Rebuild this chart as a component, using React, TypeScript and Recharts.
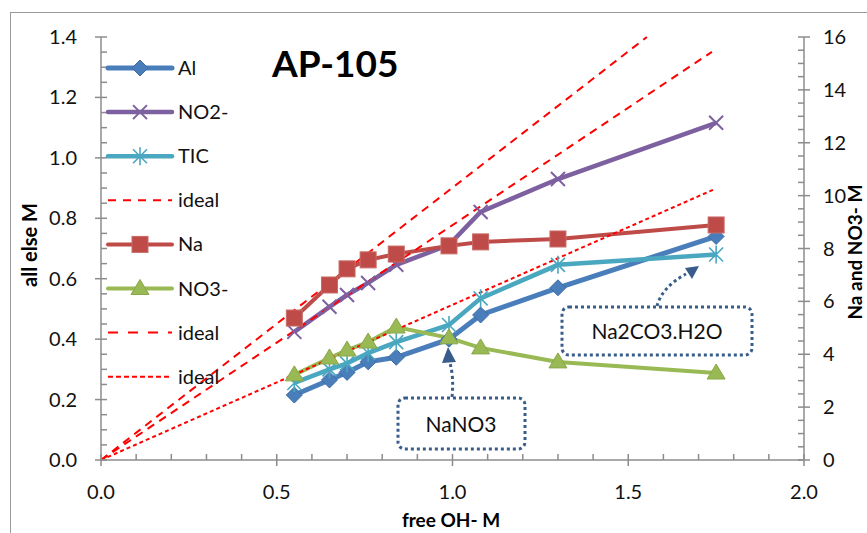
import { LineChart, Line, XAxis, YAxis, Legend, Customized } from "recharts"

// free OH- M for every sample
const freeOH = [0.55, 0.65, 0.7, 0.76, 0.84, 0.99, 1.08, 1.3, 1.75]

// left axis ("all else M")
const alM = [0.215, 0.265, 0.29, 0.325, 0.34, 0.4, 0.48, 0.57, 0.74]
const no2M = [0.424, 0.507, 0.546, 0.586, 0.646, 0.712, 0.821, 0.93, 1.116]
const ticM = [0.255, 0.3, 0.32, 0.354, 0.39, 0.447, 0.535, 0.646, 0.68]

// right axis ("Na and NO3- M")
const naM = [5.37, 6.62, 7.23, 7.57, 7.79, 8.1, 8.25, 8.36, 8.89]
const no3M = [3.22, 3.86, 4.16, 4.46, 5.03, 4.62, 4.24, 3.71, 3.29]

// ideal lines, two points each
const idealLeftX = [0, 1.553]
const idealLeftY = [0, 1.4]
const idealNaX = [0, 1.738]
const idealNaY = [0, 15.44]
const idealNo3X = [0, 1.741]
const idealNo3Y = [0, 10.22]

const xMajor = [0, 0.5, 1, 1.5, 2]
const leftMajor = [0, 0.2, 0.4, 0.6, 0.8, 1, 1.2, 1.4]
const rightMajor = [0, 2, 4, 6, 8, 10, 12, 14, 16]

const steps = (max: number, step: number) => {
    const out: number[] = []
    for (let i = 0; i * step <= max + 1e-9; i++) out.push(Number((i * step).toFixed(3)))
    return out
}
const xTicks = steps(2, 0.1)
const leftTicks = steps(1.4, 0.05)
const rightTicks = steps(16, 0.5)

const isMajor = (list: number[], v: number) => list.some((m) => Math.abs(m - v) < 1e-6)

const toPoints = (xs: number[], ys: number[]) => xs.map((x, i) => ({ x, y: ys[i] }))

const AXIS = "#8c8c8c"
const FONT = "Lato, 'Open Sans', sans-serif"
const AL = "#4a7ebb"
const NO2 = "#7d60a0"
const TIC = "#4aa7c0"
const NA = "#be4b48"
const NO3 = "#98b954"
const IDEAL = "#ff0000"
const NOTE = "#385d8a"

const XTick = (p: any) => {
    const major = isMajor(xMajor, p.payload.value)
    return (
        <g>
            <line x1={p.x} x2={p.x} y1={major ? p.y + 6 : p.y} y2={p.y - 6} stroke={AXIS} strokeWidth={1.5} />
            {major && (
                <text x={p.x} y={p.y + 39} textAnchor="middle" fontSize={20} fontFamily={FONT} fill="#111">
                    {p.payload.value.toFixed(1)}
                </text>
            )}
        </g>
    )
}

const LeftTick = (p: any) => {
    const major = isMajor(leftMajor, p.payload.value)
    return (
        <g>
            <line x1={major ? p.x - 6 : p.x} x2={p.x + 6} y1={p.y} y2={p.y} stroke={AXIS} strokeWidth={1.5} />
            {major && (
                <text x={p.x - 24} y={p.y + 7} textAnchor="end" fontSize={20} fontFamily={FONT} fill="#111">
                    {p.payload.value.toFixed(1)}
                </text>
            )}
        </g>
    )
}

const RightTick = (p: any) => {
    const major = isMajor(rightMajor, p.payload.value)
    return (
        <g>
            <line x1={p.x - 6} x2={major ? p.x + 6 : p.x} y1={p.y} y2={p.y} stroke={AXIS} strokeWidth={1.5} />
            {major && (
                <text x={p.x + 19} y={p.y + 7} textAnchor="start" fontSize={20} fontFamily={FONT} fill="#111">
                    {p.payload.value}
                </text>
            )}
        </g>
    )
}

type Kind = "diamond" | "cross" | "star" | "square" | "triangle"

const marker = (kind: Kind, cx: number, cy: number, color: string) => {
    switch (kind) {
        case "diamond":
            return <path d={`M${cx},${cy - 8}L${cx + 8},${cy}L${cx},${cy + 8}L${cx - 8},${cy}Z`} fill={color} stroke="#3d6ca6" strokeWidth={1} />
        case "cross":
            return (
                <path d={`M${cx - 7},${cy - 7}L${cx + 7},${cy + 7}M${cx - 7},${cy + 7}L${cx + 7},${cy - 7}`} stroke={color} strokeWidth={2} />
            )
        case "star":
            return (
                <path
                    d={`M${cx - 7},${cy - 7}L${cx + 7},${cy + 7}M${cx - 7},${cy + 7}L${cx + 7},${cy - 7}M${cx},${cy - 9}L${cx},${cy + 9}`}
                    stroke={color}
                    strokeWidth={1.6}
                />
            )
        case "square":
            return <rect x={cx - 8} y={cy - 8} width={16} height={16} fill={color} stroke="#c96a67" strokeWidth={1} />
        case "triangle":
            return <path d={`M${cx},${cy - 9}L${cx + 9},${cy + 6}L${cx - 9},${cy + 6}Z`} fill={color} stroke="#8aa84a" strokeWidth={1} />
    }
}

const dotOf = (kind: Kind, color: string) => (p: any) => {
    if (p.cx == null || p.cy == null) return <g key={p.index} />
    return <g key={p.index}>{marker(kind, p.cx, p.cy, color)}</g>
}

const legendItems: { name: string; color: string; kind?: Kind; dash?: string; width: number }[] = [
    { name: "Al", color: AL, kind: "diamond", width: 5 },
    { name: "NO2-", color: NO2, kind: "cross", width: 4.5 },
    { name: "TIC", color: TIC, kind: "star", width: 4.5 },
    { name: "ideal", color: IDEAL, dash: "8 7", width: 2 },
    { name: "Na", color: NA, kind: "square", width: 4 },
    { name: "NO3-", color: NO3, kind: "triangle", width: 4 },
    { name: "ideal", color: IDEAL, dash: "10 10", width: 2 },
    { name: "ideal", color: IDEAL, dash: "5 3", width: 2 },
]

const LegendBox = () => (
    <svg width={150} height={360}>
        {legendItems.map((it, i) => {
            const y = 22 + i * 44.1
            return (
                <g key={i}>
                    <line x1={4} x2={68} y1={y} y2={y} stroke={it.color} strokeWidth={it.width} strokeDasharray={it.dash} strokeLinecap={it.dash ? "butt" : "round"} />
                    {it.kind && marker(it.kind, 36, y, it.color)}
                    <text x={74} y={y + 7} fontSize={20} fontFamily={FONT} fill="#111">
                        {it.name}
                    </text>
                </g>
            )
        })}
    </svg>
)

const Notes = () => (
    <g fontFamily={FONT}>
        <text x={272} y={77} fontSize={37} fontWeight="bold" fill="#000">
            AP-105
        </text>
        <text x={29} y={245} fontSize={20} fontWeight="bold" textAnchor="middle" dominantBaseline="central" transform="rotate(-90 29 245)">
            all else M
        </text>
        <text x={854} y={252} fontSize={19} fontWeight="bold" textAnchor="middle" dominantBaseline="central" transform="rotate(-90 854 252)">
            Na and NO3- M
        </text>
        <text x={451} y={519} fontSize={19} fontWeight="bold" textAnchor="middle" dominantBaseline="central">
            free OH- M
        </text>

        <rect x={398} y={398} width={127} height={51} rx={7} fill="#fff" stroke={NOTE} strokeWidth={3} strokeDasharray="3 3" />
        <text x={461} y={432} fontSize={21} textAnchor="middle" fill="#111">
            NaNO3
        </text>
        <path d="M452,397 Q454,378 450,363" fill="none" stroke={NOTE} strokeWidth={3} strokeDasharray="3 3" />
        <path d="M448,347 L442,363 L456,362 Z" fill={NOTE} />

        <rect x={562} y={307} width={190} height={48} rx={7} fill="#fff" stroke={NOTE} strokeWidth={3} strokeDasharray="3 3" />
        <text x={657} y={339} fontSize={21} textAnchor="middle" fill="#111">
            Na2CO3.H2O
        </text>
        <path d="M657,306 Q662,287 686,274" fill="none" stroke={NOTE} strokeWidth={3} strokeDasharray="3 3" />
        <path d="M699,266 L685,268 L692,279 Z" fill={NOTE} />
    </g>
)

export default function App() {
    return (
        <div style={{ position: "absolute", left: 0, top: 0, width: 867, height: 533, background: "#fff", overflow: "hidden" }}>
            <div style={{ position: "absolute", left: 10, top: 12, width: 900, height: 600, borderLeft: "1.5px solid #9a9a9a", borderTop: "1.5px solid #9a9a9a" }} />
            <LineChart width={867} height={533} margin={{ top: 37, right: 3, bottom: 23, left: 41 }} style={{ position: "absolute", left: 0, top: 0 }}>
                <XAxis
                    type="number"
                    dataKey="x"
                    domain={[0, 2]}
                    ticks={xTicks}
                    interval={0}
                    tick={(p: any) => <XTick {...p} />}
                    tickLine={false}
                    tickSize={0}
                    tickMargin={0}
                    height={50}
                    axisLine={{ stroke: AXIS, strokeWidth: 1.5 }}
                    allowDuplicatedCategory={false}
                />
                <YAxis
                    yAxisId="left"
                    type="number"
                    domain={[0, 1.4]}
                    ticks={leftTicks}
                    interval={0}
                    tick={(p: any) => <LeftTick {...p} />}
                    tickLine={false}
                    tickSize={0}
                    tickMargin={0}
                    width={60}
                    axisLine={{ stroke: AXIS, strokeWidth: 1.5 }}
                />
                <YAxis
                    yAxisId="right"
                    orientation="right"
                    type="number"
                    domain={[0, 16]}
                    ticks={rightTicks}
                    interval={0}
                    tick={(p: any) => <RightTick {...p} />}
                    tickLine={false}
                    tickSize={0}
                    tickMargin={0}
                    width={60}
                    axisLine={{ stroke: AXIS, strokeWidth: 1.5 }}
                />
                <Legend
                    layout="vertical"
                    align="center"
                    verticalAlign="middle"
                    wrapperStyle={{ left: 104, top: 46, width: 150, height: 360 }}
                    content={() => <LegendBox />}
                />
                <Line yAxisId="left" data={toPoints(freeOH, alM)} dataKey="y" name="Al" stroke={AL} strokeWidth={5} dot={dotOf("diamond", AL)} isAnimationActive={false} />
                <Line yAxisId="left" data={toPoints(freeOH, no2M)} dataKey="y" name="NO2-" stroke={NO2} strokeWidth={4.5} dot={dotOf("cross", NO2)} isAnimationActive={false} />
                <Line yAxisId="left" data={toPoints(freeOH, ticM)} dataKey="y" name="TIC" stroke={TIC} strokeWidth={4.5} dot={dotOf("star", TIC)} isAnimationActive={false} />
                <Line yAxisId="left" data={toPoints(idealLeftX, idealLeftY)} dataKey="y" name="ideal" stroke={IDEAL} strokeWidth={2} strokeDasharray="8 6" dot={false} isAnimationActive={false} />
                <Line yAxisId="right" data={toPoints(freeOH, naM)} dataKey="y" name="Na" stroke={NA} strokeWidth={4} dot={dotOf("square", NA)} isAnimationActive={false} />
                <Line yAxisId="right" data={toPoints(freeOH, no3M)} dataKey="y" name="NO3-" stroke={NO3} strokeWidth={4} dot={dotOf("triangle", NO3)} isAnimationActive={false} />
                <Line yAxisId="right" data={toPoints(idealNaX, idealNaY)} dataKey="y" name="ideal" stroke={IDEAL} strokeWidth={2} strokeDasharray="8 6" dot={false} isAnimationActive={false} />
                <Line yAxisId="right" data={toPoints(idealNo3X, idealNo3Y)} dataKey="y" name="ideal" stroke={IDEAL} strokeWidth={2} strokeDasharray="4 3" dot={false} isAnimationActive={false} />
                <Customized component={Notes} />
            </LineChart>
        </div>
    )
}
